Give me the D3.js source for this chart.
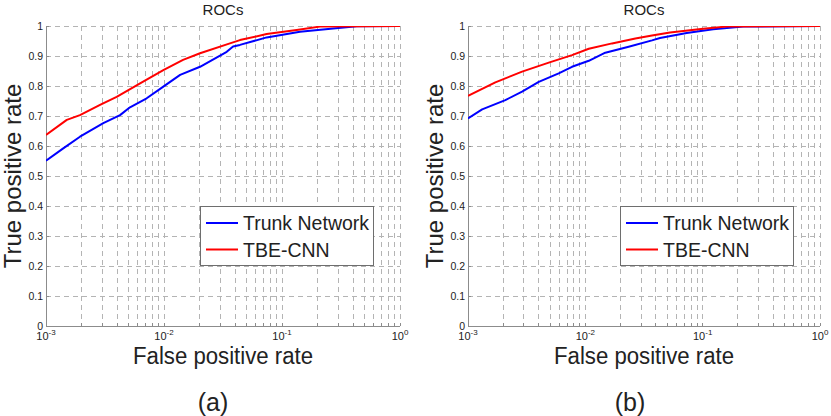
<!DOCTYPE html>
<html>
<head>
<meta charset="utf-8">
<script src="https://cdn.jsdelivr.net/npm/d3@7"></script>
<style>
  html, body { margin: 0; padding: 0; background: #fff; }
  svg { display: block; }
  text { font-family: "Liberation Sans", Arial, sans-serif; fill: #222; }
</style>
</head>
<body>
<svg id="chart" width="831" height="416"></svg>
<script>
// ── ROC data: [false positive rate, true positive rate] ──
const rocA_trunk = [
  [0.001, 0.551], [0.0014, 0.592], [0.00194, 0.631], [0.00306, 0.676], [0.00424, 0.703],
  [0.00515, 0.729], [0.00713, 0.759], [0.00987, 0.798], [0.0137, 0.837], [0.0202, 0.864],
  [0.034, 0.914], [0.0385, 0.932], [0.044, 0.937], [0.0741, 0.962], [0.142, 0.981],
  [0.272, 0.992], [0.43, 0.999], [1, 1]
];
const rocA_tbe = [
  [0.001, 0.637], [0.0015, 0.687], [0.00194, 0.703], [0.00287, 0.737], [0.00397, 0.764],
  [0.00627, 0.809], [0.00987, 0.853], [0.0145, 0.887], [0.0202, 0.909], [0.0362, 0.942],
  [0.044, 0.953], [0.0741, 0.973], [0.133, 0.987], [0.21, 0.998], [1, 1]
];
const rocB_trunk = [
  [0.001, 0.692], [0.00132, 0.722], [0.00208, 0.753], [0.00289, 0.781], [0.00401, 0.814],
  [0.00593, 0.842], [0.0077, 0.864], [0.0107, 0.884], [0.0148, 0.911], [0.0234, 0.931],
  [0.037, 0.952], [0.0433, 0.96], [0.0731, 0.977], [0.123, 0.989], [0.222, 0.998], [1, 1]
];
const rocB_tbe = [
  [0.001, 0.767], [0.00171, 0.812], [0.00289, 0.848], [0.00488, 0.878], [0.0077, 0.903],
  [0.0107, 0.924], [0.0169, 0.942], [0.0267, 0.958], [0.037, 0.968], [0.0527, 0.978],
  [0.101, 0.991], [0.16, 0.998], [1, 1]
];

const yTicks = [0, 0.1, 0.2, 0.3, 0.4, 0.5, 0.6, 0.7, 0.8, 0.9, 1];
const xDecades = [-3, -2, -1, 0];
const seriesNames = ['Trunk Network', 'TBE-CNN'];
const seriesColors = ['#0000ff', '#ff0000'];

const panels = [
  { id: 'a', left: 46, right: 400, series: [rocA_trunk, rocA_tbe], capX: 213 },
  { id: 'b', left: 468, right: 820, series: [rocB_trunk, rocB_tbe], capX: 630 }
];

const svg = d3.select('#chart');
const plotTop = 26, plotBottom = 326;

function drawPanel(p) {
  const x = d3.scaleLog().domain([1e-3, 1]).range([p.left, p.right]);
  const y = d3.scaleLinear().domain([0, 1]).range([plotBottom, plotTop]);
  const g = svg.append('g');
  const cx = (p.left + p.right) / 2;

  // grid — dashed, every y tick and every log minor
  const minors = [];
  for (let d = -3; d < 0; d++) for (let k = 1; k <= 9; k++) minors.push(k * Math.pow(10, d));
  minors.push(1);
  g.selectAll('.vgrid').data(minors.filter(v => v > 1e-3)).join('line')
    .attr('x1', d => x(d)).attr('x2', d => x(d)).attr('y1', plotTop).attr('y2', plotBottom)
    .attr('stroke', '#b4b4b4').attr('stroke-width', 1).attr('stroke-dasharray', '5,4')
    .attr('shape-rendering', 'crispEdges');
  g.selectAll('.hgrid').data(yTicks.filter(v => v > 0)).join('line')
    .attr('x1', p.left).attr('x2', p.right).attr('y1', d => y(d)).attr('y2', d => y(d))
    .attr('stroke', '#b4b4b4').attr('stroke-width', 1).attr('stroke-dasharray', '5,4')
    .attr('shape-rendering', 'crispEdges');

  // axes (left + bottom solid, small inward ticks)
  g.append('line').attr('x1', p.left).attr('x2', p.left).attr('y1', plotTop).attr('y2', plotBottom)
    .attr('stroke', '#8c8c8c').attr('shape-rendering', 'crispEdges');
  g.append('line').attr('x1', p.left).attr('x2', p.right).attr('y1', plotBottom).attr('y2', plotBottom)
    .attr('stroke', '#8c8c8c').attr('shape-rendering', 'crispEdges');
  g.selectAll('.xtk').data(minors).join('line')
    .attr('x1', d => x(d)).attr('x2', d => x(d)).attr('y1', plotBottom).attr('y2', plotBottom - 3)
    .attr('stroke', '#8c8c8c').attr('shape-rendering', 'crispEdges');
  g.selectAll('.ytk').data(yTicks).join('line')
    .attr('x1', p.left).attr('x2', p.left + 3).attr('y1', d => y(d)).attr('y2', d => y(d))
    .attr('stroke', '#8c8c8c').attr('shape-rendering', 'crispEdges');

  // y tick labels
  g.selectAll('.ylab').data(yTicks).join('text')
    .attr('x', p.left - 3).attr('y', d => y(d) + 3.5)
    .attr('text-anchor', 'end').attr('font-size', 10.5)
    .text(d => d3.format('~g')(d));

  // x tick labels 10^n
  xDecades.forEach(e => {
    const t = g.append('text').attr('x', x(Math.pow(10, e))).attr('y', 339.5)
      .attr('text-anchor', 'middle').attr('font-size', 11);
    t.append('tspan').text('10');
    t.append('tspan').attr('dy', -5).attr('font-size', 8).text(String(e));
  });

  // curves, clipped to the axes box
  const clipId = 'clip-' + p.id;
  svg.append('clipPath').attr('id', clipId).append('rect')
    .attr('x', p.left).attr('y', plotTop).attr('width', p.right - p.left).attr('height', plotBottom - plotTop);
  const line = d3.line().x(d => x(d[0])).y(d => y(d[1]));
  p.series.forEach((s, i) => {
    g.append('path').datum(s).attr('clip-path', `url(#${clipId})`)
      .attr('fill', 'none').attr('stroke', seriesColors[i]).attr('stroke-width', 2)
      .attr('stroke-linejoin', 'round').attr('d', line);
  });

  // title + axis labels
  g.append('text').attr('x', cx).attr('y', 15).attr('text-anchor', 'middle')
    .attr('font-size', 15).text('ROCs');
  g.append('text').attr('x', cx).attr('y', 364).attr('text-anchor', 'middle')
    .attr('font-size', 23.5).attr('textLength', 180).attr('lengthAdjust', 'spacingAndGlyphs')
    .attr('fill', '#111').text('False positive rate');
  g.append('text').attr('transform', `translate(${p.left - 25.5},${(plotTop + plotBottom) / 2}) rotate(-90)`)
    .attr('text-anchor', 'middle').attr('font-size', 24).attr('fill', '#111').text('True positive rate');

  // legend
  const lg = g.append('g').attr('transform', `translate(${p.right - 200},206)`);
  lg.append('rect').attr('x', 0.5).attr('y', 0.5).attr('width', 173).attr('height', 59)
    .attr('fill', '#fff').attr('stroke', '#6e6e6e');
  seriesNames.forEach((n, i) => {
    const ly = 17 + i * 26.5;
    lg.append('line').attr('x1', 6).attr('x2', 38).attr('y1', ly).attr('y2', ly)
      .attr('stroke', seriesColors[i]).attr('stroke-width', 2);
    lg.append('text').attr('x', 43).attr('y', ly + 7).attr('font-size', 19.5).attr('fill', '#000').text(n);
  });

  // panel caption
  g.append('text').attr('x', p.capX).attr('y', 411).attr('text-anchor', 'middle')
    .attr('font-family', 'Lato, "Open Sans", sans-serif').attr('font-size', 25)
    .attr('fill', '#000').text(`(${p.id})`);
}

panels.forEach(drawPanel);
</script>
</body>
</html>
